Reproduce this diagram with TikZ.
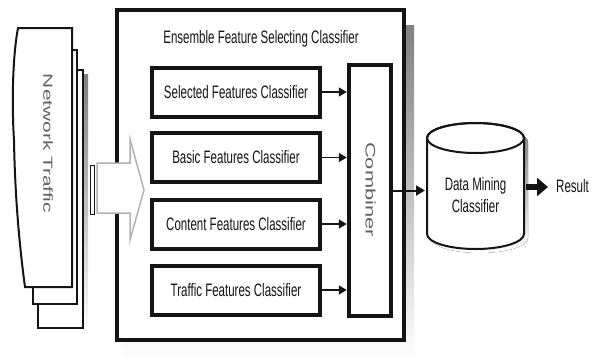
\documentclass[tikz,border=0pt]{standalone}
\usepackage{fontspec}
\usepackage{graphicx}
\setmainfont{Liberation Sans}
\newfontfamily\hfont[FakeStretch=0.64]{Liberation Sans}
\usetikzlibrary{arrows.meta}
\definecolor{shade}{gray}{0.72}
\definecolor{ink}{gray}{0.08}
\newcommand{\vlabel}[3]{\resizebox{#1}{#2}{\fontsize{14}{16}\selectfont #3}}
\begin{document}
\begin{tikzpicture}[x=1pt,y=-1pt,
  clsbox/.style={draw=ink, line width=4pt, fill=white, minimum width=168pt, minimum height=49pt, inner sep=0pt, font=\hfont\fontsize{18}{21}\selectfont, text=ink},
  htext/.style={font=\hfont\fontsize{18}{22}\selectfont, inner sep=0pt, text=ink},
  vtext/.style={rotate=-90, inner sep=0pt, text=black!62},
  smallarr/.style={draw=ink, line width=1.5pt, -{Triangle[length=8pt,width=9pt]}},
  page/.style={draw=ink, line width=2pt, fill=white},
]
\useasboundingbox (0,0) rectangle (598,360);
\fill[white] (0,0) rectangle (598,360);

% big box with shadow
\fill[shade] (123,25) rectangle (414,358);
\node (ens) [draw=ink, line width=4pt, fill=white, minimum width=287pt, minimum height=330pt, inner sep=0pt] at (260.5,175) {};
\node (title) [htext, anchor=base] at (261,43) {Ensemble Feature Selecting Classifier};

% network traffic pages
\fill[shade] (42,74) rectangle (88,334);
\draw[page] (38,70) rectangle (83,328);
\draw[page] (33,50) rectangle (77,304);
\draw[page] (18,28) -- (72,28) -- (72,287) -- (25,287)
  .. controls (20,250) and (15,200) .. (14,140)
  .. controls (12,110) and (12,60) .. (18,28) -- cycle;
\node (net) [vtext] at (48,143.5) {\vlabel{139pt}{9.5pt}{Network Traffic}};

% block arrow
\draw[ink, line width=0.8pt, fill=white] (90,165) rectangle (94,214);
\draw[gray!60, line width=1.5pt, fill=white, line join=miter]
  (97,163) -- (130,163) -- (130,139) -- (144,190) -- (130,240) -- (130,213) -- (97,213) -- cycle;

% classifiers
\node (b1) [clsbox] at (236,92) {Selected Features Classifier};
\node (b2) [clsbox] at (236,157.5) {Basic Features Classifier};
\node (b3) [clsbox] at (236,224) {Content Features Classifier};
\node (b4) [clsbox] at (236,290) {Traffic Features Classifier};

% combiner
\node (comb) [draw=ink, line width=4.5pt, fill=white, minimum width=42pt, minimum height=251pt, inner sep=0pt] at (370,190.5) {};
\node (combt) [vtext] at (370.5,189.5) {\vlabel{95pt}{10pt}{Combiner}};

\draw[smallarr] (b1.east) -- (b1.east -| comb.west);
\draw[smallarr] (b2.east) -- (b2.east -| comb.west);
\draw[smallarr] (b3.east) -- (b3.east -| comb.west);
\draw[smallarr] (b4.east) -- (b4.east -| comb.west);

% cylinder
\coordinate (cylL) at (425,190);
\coordinate (cylR) at (526,187);
\fill[shade] (431,142) -- (431,238) arc[start angle=180,end angle=0,x radius=48.5,y radius=15] -- (528,142) arc[start angle=0,end angle=-180,x radius=48.5,y radius=15] -- cycle;
\draw[ink, line width=2pt, fill=white] (427,138) -- (427,234) arc[start angle=180,end angle=0,x radius=48.5,y radius=15] -- (524,138) arc[start angle=0,end angle=-180,x radius=48.5,y radius=15] -- cycle;
\draw[ink, line width=2pt] (475.5,138) ellipse[x radius=48.5, y radius=15];
\node (dm) [htext, align=center] at (475.5,195) {Data Mining\\Classifier};

\draw[ink, line width=2pt, -{Triangle[length=9pt,width=10pt]}] (comb.east) -- (comb.east -| cylL);

\node (res) [htext, anchor=west] at (556,186) {Result};
\draw[ink, line width=6pt, -{Triangle[length=11pt,width=18pt]}] (cylR) -- ([xshift=-8pt]res.west |- cylR);
\end{tikzpicture}
\end{document}
